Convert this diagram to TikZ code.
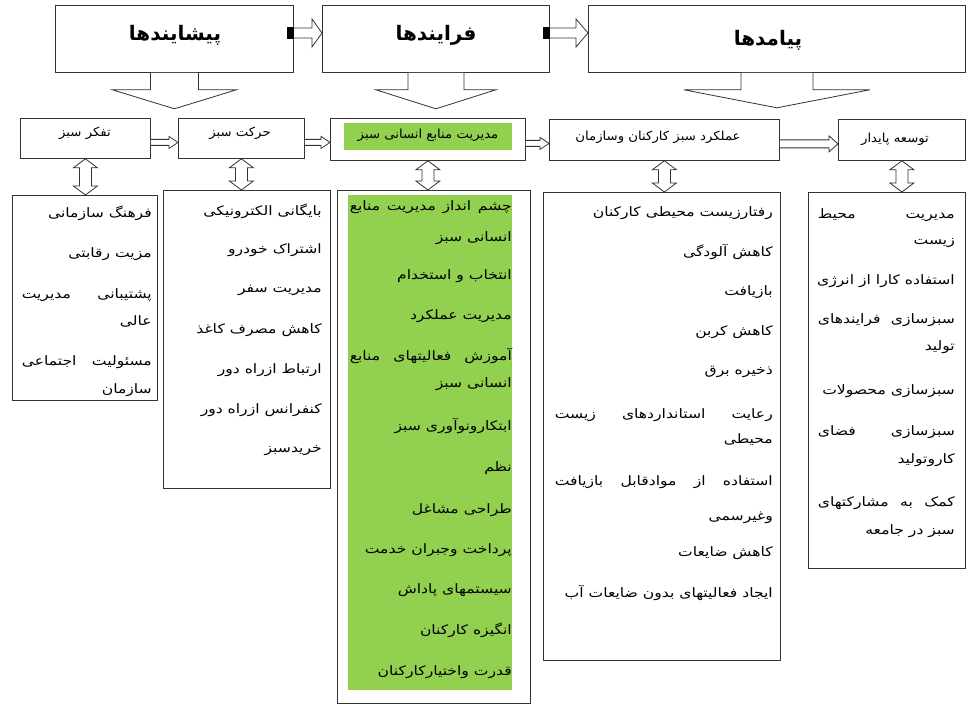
\documentclass[tikz,border=0pt]{standalone}
\usepackage{fontspec}
\usepackage{graphicx}
\usetikzlibrary{calc}
\TeXXeTstate=1
\newfontfamily\fa[Script=Arabic]{DejaVu Sans}
\newcommand{\rt}[1]{\scalebox{1.2}[1]{\fa\beginR #1\endR}}
\newcommand{\rs}[1]{\scalebox{1.06}[1]{\fa\beginR #1\endR}}
\newcommand{\ttlfa}[1]{{\fa\beginR #1\endR}}
\newcommand{\jl}[2]{\scalebox{1.2}[1]{\hbox to \dimexpr #1pt*5/6\relax{\fa\beginR #2\endR}}}
\definecolor{hrgreen}{RGB}{146,208,80}
\begin{document}
\begin{tikzpicture}[x=1pt,y=-1pt,
  box/.style={draw=black!80, line width=0.8pt, fill=white, anchor=north west, inner sep=0pt},
  gbox/.style={fill=hrgreen, draw=none, anchor=north west, inner sep=0pt},
  blk/.style={draw=black!80, line width=0.8pt, fill=white, line join=miter},
  ttl/.style={font=\fa\bfseries\fontsize{20}{24}\selectfont, inner sep=0pt},
  txt/.style={font=\fontsize{13}{15}\selectfont, inner sep=0pt, anchor=east},
  ctx/.style={font=\fontsize{12.5}{15}\selectfont, inner sep=0pt},
]
\fill[white] (0,0) rectangle (967,706);
\useasboundingbox (0,0) rectangle (967,706);

% ---------- top row ----------
\node[box, minimum width=238, minimum height=67] (A) at (55,5) {};
\node[box, minimum width=227, minimum height=67] (B) at (322,5) {};
\node[box, minimum width=377, minimum height=67] (C) at (588,5) {};
\node[ttl] (At) at (175,35) {\ttlfa{پیشایندها}};
\node[ttl] (Bt) at (436,35) {\ttlfa{فرایندها}};
\node[ttl] (Ct) at (768,40) {\ttlfa{پیامدها}};

% small arrows A->B, B->C
\coordinate (abs) at ($(A.north east)+(0,28)$);
\coordinate (abe) at (abs -| B.west);
\draw[blk] ($(abs)+(0,-5)$) -- ($(abe)+(-10,-5)$) -- ($(abe)+(-10,-14)$) -- (abe) -- ($(abe)+(-10,14)$) -- ($(abe)+(-10,5)$) -- ($(abs)+(0,5)$);
\fill[black] ($(abs)+(-7,-6)$) rectangle ($(abs)+(0,6)$);
\coordinate (bcs) at ($(B.north east)+(0,28)$);
\coordinate (bce) at (bcs -| C.west);
\draw[blk] ($(bcs)+(0,-5)$) -- ($(bce)+(-12,-5)$) -- ($(bce)+(-12,-14)$) -- (bce) -- ($(bce)+(-12,14)$) -- ($(bce)+(-12,5)$) -- ($(bcs)+(0,5)$);
\fill[black] ($(bcs)+(-7,-6)$) rectangle ($(bcs)+(0,6)$);

% ---------- row 2 ----------
\node[box, minimum width=130, minimum height=40] (r1) at (20,118) {};
\node[box, minimum width=126, minimum height=40] (r2) at (178,118) {};
\node[box, minimum width=195, minimum height=42] (r3) at (330,118) {};
\node[gbox, minimum width=168, minimum height=27] (r3g) at (344,123) {};
\node[box, minimum width=230, minimum height=41] (r4) at (549,119) {};
\node[box, minimum width=127, minimum height=41] (r5) at (838,119) {};
\node[ctx] (r1t) at (85,133) {\rs{تفکر سبز}};
\node[ctx] (r2t) at (240,133) {\rs{حرکت سبز}};
\node[ctx] (r3t) at (428,135) {\rs{مدیریت منابع انسانی سبز}};
\node[ctx] (r4t) at (658,137) {\rs{عملکرد سبز کارکنان وسازمان}};
\node[ctx] (r5t) at (895,139) {\rs{توسعه پایدار}};

% big down arrows
\draw[blk] ($(A.south)+(-24,0)$) -- ++(0,17) -- ++(-38,0) -- ++(62,19) -- ++(62,-19) -- ++(-38,0) -- ++(0,-17);
\draw[blk] ($(B.south)+(-28,0)$) -- ++(0,17) -- ++(-32,0) -- ++(60,19) -- ++(60,-19) -- ++(-32,0) -- ++(0,-17);
\draw[blk] ($(C.south)+(-36,0)$) -- ++(0,17) -- ++(-57,0) -- ++(93,18) -- ++(93,-18) -- ++(-57,0) -- ++(0,-17);

% row-2 horizontal arrows
\foreach \s/\e/\hh/\sh in {r1/r2/6/3, r2/r3/6/3, r3/r4/6/3, r4/r5/8/4}{
  \coordinate (hs) at ($(\s.east)+(0,4)$);
  \coordinate (he) at (hs -| \e.west);
  \draw[blk] ($(hs)+(0,-\sh)$) -- ($(he)+(-9,-\sh)$) -- ($(he)+(-9,-\hh)$) -- (he) -- ($(he)+(-9,\hh)$) -- ($(he)+(-9,\sh)$) -- ($(hs)+(0,\sh)$);
}

% ---------- row 3 ----------
\node[box, minimum width=145, minimum height=205] (b1) at (12,195) {};
\node[box, minimum width=167, minimum height=298] (b2) at (163,190) {};
\node[box, minimum width=193, minimum height=513] (b3) at (337,190) {};
\node[gbox, minimum width=164, minimum height=495] (b3g) at (348,195) {};
\node[box, minimum width=237, minimum height=468] (b4) at (543,192) {};
\node[box, minimum width=157, minimum height=376] (b5) at (808,192) {};

% vertical double arrows
\foreach \r/\b in {r1/b1, r2/b2, r3/b3, r4/b4, r5/b5}{
  \coordinate (vt) at (\r.south);
  \coordinate (vb) at (\r.south |- \b.north);
  \draw[blk] (vt) -- ($(vt)+(12,9)$) -- ($(vt)+(6,9)$) -- ($(vb)+(6,-9)$) -- ($(vb)+(12,-9)$) -- (vb) -- ($(vb)+(-12,-9)$) -- ($(vb)+(-6,-9)$) -- ($(vt)+(-6,9)$) -- ($(vt)+(-12,9)$) -- cycle;
}

% texts box 1
\node[txt] (b1a) at (152,213) {\rt{فرهنگ سازمانی}};
\node[txt] (b1b) at (152,254) {\rt{مزیت رقابتی}};
\node[txt] (b1c) at (152,295) {\jl{130}{پشتیبانی\hfill مدیریت}};
\node[txt] (b1d) at (152,321) {\rt{عالی}};
\node[txt] (b1e) at (152,362) {\jl{130}{مسئولیت\hfill اجتماعی}};
\node[txt] (b1f) at (152,390) {\rt{سازمان}};

% texts box 2
\node[txt] (b2a) at (322,211) {\rt{بایگانی الکترونیکی}};
\node[txt] (b2b) at (322,250) {\rt{اشتراک خودرو}};
\node[txt] (b2c) at (322,290) {\rt{مدیریت سفر}};
\node[txt] (b2d) at (322,330) {\rt{کاهش مصرف کاغذ}};
\node[txt] (b2e) at (322,370) {\rt{ارتباط ازراه دور}};
\node[txt] (b2f) at (322,410) {\rt{کنفرانس ازراه دور}};
\node[txt] (b2g) at (322,451) {\rt{خریدسبز}};

% texts box 3
\node[txt] (b3a) at (512,207) {\jl{162}{چشم\hfill انداز\hfill مدیریت\hfill منابع}};
\node[txt] (b3b) at (512,238) {\rt{انسانی سبز}};
\node[txt] (b3c) at (512,276) {\rt{انتخاب و استخدام}};
\node[txt] (b3d) at (512,316) {\rt{مدیریت عملکرد}};
\node[txt] (b3e) at (512,356) {\jl{162}{آموزش\hfill فعالیتهای\hfill منابع}};
\node[txt] (b3f) at (512,384) {\rt{انسانی سبز}};
\node[txt] (b3g1) at (512,426) {\rt{ابتکارونوآوری سبز}};
\node[txt] (b3h) at (512,468) {\rt{نظم}};
\node[txt] (b3i) at (512,510) {\rt{طراحی مشاغل}};
\node[txt] (b3j) at (512,550) {\rt{پرداخت وجبران خدمت}};
\node[txt] (b3k) at (512,590) {\rt{سیستمهای پاداش}};
\node[txt] (b3l) at (512,630) {\rt{انگیزه کارکنان}};
\node[txt] (b3m) at (512,672) {\rt{قدرت واختیارکارکنان}};

% texts box 4
\node[txt] (b4a) at (773,213) {\rt{رفتارزیست محیطی کارکنان}};
\node[txt] (b4b) at (773,252) {\rt{کاهش آلودگی}};
\node[txt] (b4c) at (773,292) {\rt{بازیافت}};
\node[txt] (b4d) at (773,332) {\rt{کاهش کربن}};
\node[txt] (b4e) at (773,372) {\rt{ذخیره برق}};
\node[txt] (b4f) at (773,415) {\jl{218}{رعایت\hfill استانداردهای\hfill زیست}};
\node[txt] (b4g) at (773,440) {\rt{محیطی}};
\node[txt] (b4h) at (773,482) {\jl{218}{استفاده\hfill از\hfill موادقابل\hfill بازیافت}};
\node[txt] (b4i) at (773,518) {\rt{وغیرسمی}};
\node[txt] (b4j) at (773,553) {\rt{کاهش ضایعات}};
\node[txt] (b4k) at (773,593) {\rt{ایجاد فعالیتهای بدون ضایعات آب}};

% texts box 5
\node[txt] (b5a) at (955,215) {\jl{137}{مدیریت\hfill محیط}};
\node[txt] (b5b) at (955,243) {\rt{زیست}};
\node[txt] (b5c) at (955,281) {\rt{استفاده کارا از انرژی}};
\node[txt] (b5d) at (955,320) {\jl{137}{سبزسازی\hfill فرایندهای}};
\node[txt] (b5e) at (955,347) {\rt{تولید}};
\node[txt] (b5f) at (955,391) {\rt{سبزسازی محصولات}};
\node[txt] (b5g) at (955,432) {\jl{137}{سبزسازی\hfill فضای}};
\node[txt] (b5h) at (955,460) {\rt{کاروتولید}};
\node[txt] (b5i) at (955,503) {\jl{137}{کمک\hfill به\hfill مشارکتهای}};
\node[txt] (b5j) at (955,531) {\rt{سبز در جامعه}};
\end{tikzpicture}
\end{document}
